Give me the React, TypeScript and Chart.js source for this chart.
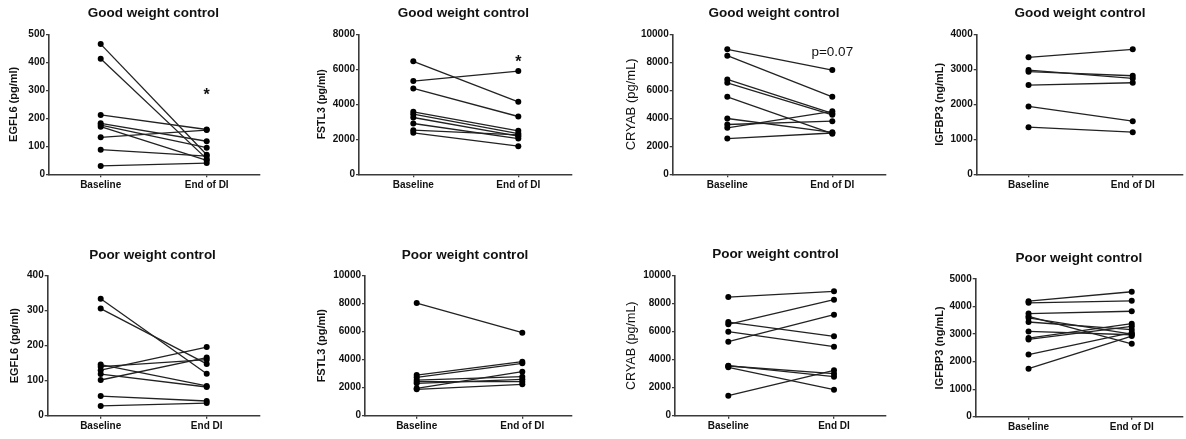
import React, { useEffect, useRef } from "react";
import { Chart, registerables } from "chart.js";

Chart.register(...registerables);

const FONT = '"Liberation Sans", Arial, Helvetica, sans-serif';

// ---------- DATA ----------
const xLabelsEndOfDI = ["Baseline", "End of DI"];
const xLabelsEndDI = ["Baseline", "End DI"];

const egfl6GoodBaseline = [465, 413, 212, 182, 176, 170, 132, 88, 30];
const egfl6GoodEnd = [70, 55, 160, 118, 95, 50, 158, 65, 40];

const fstl3GoodBaseline = [6453, 5327, 4907, 3570, 3437, 3246, 2902, 2520, 2368];
const fstl3GoodEnd = [4143, 5900, 3303, 2482, 2330, 2177, 2043, 2250, 1604];

const cryabGoodBaseline = [8926, 8473, 6778, 6539, 5537, 3986, 3556, 3317, 2554];
const cryabGoodEnd = [7446, 5537, 4350, 4250, 2900, 3000, 3795, 4500, 2950];

const igfbp3GoodBaseline = [3341, 2979, 2931, 2549, 1938, 1346];
const igfbp3GoodEnd = [3570, 2740, 2816, 2616, 1518, 1203];

const egfl6PoorBaseline = [334, 306, 146, 140, 130, 119, 102, 56, 28];
const egfl6PoorEnd = [120, 148, 85, 160, 196, 82, 166, 42, 36];

const fstl3PoorBaseline = [8048, 2905, 2738, 2548, 2429, 2310, 1952, 1881];
const fstl3PoorEnd = [5929, 3857, 3738, 2786, 2429, 2595, 3143, 2238];

const cryabPoorBaseline = [8476, 6524, 5286, 6690, 6000, 3571, 3550, 3452, 1429];
const cryabPoorEnd = [8881, 8286, 7214, 5667, 4929, 2786, 3000, 1857, 3238];

const igfbp3PoorBaseline = [4195, 4134, 3744, 3646, 3585, 3439, 3098, 2854, 2805, 2256, 1744];
const igfbp3PoorEnd = [4537, 4207, 3829, 2646, 3000, 3159, 2976, 3378, 3280, 3050, 2927];

const titleGood = "Good weight control";
const titlePoor = "Poor weight control";

// ---------- LAYOUT ----------
type Layout = {
  left: number; top: number; width: number; height: number;
  axisX: number; baseX: number; endX: number; right: number;
  plotTop: number; plotBottom: number;
  titleX: number; titleY: number; yTitleX: number;
};

type Note = { text: string; value: number; kind: "star" | "text" };

type Spec = {
  layout: Layout;
  title: string;
  yTitle: string;
  yTitleSize: number;
  yTitleWeight: string;
  xLabels: string[];
  yMax: number;
  yStep: number;
  baseline: number[];
  end: number[];
  note?: Note;
};

const specs: Spec[] = [
  {
    layout: { left: 0, top: 0, width: 290, height: 200, axisX: 49, baseX: 100.7, endX: 206.7, right: 260, plotTop: 34.3, plotBottom: 174.3, titleX: 153.3, titleY: 13.3, yTitleX: 14 },
    title: titleGood, yTitle: "EGFL6 (pg/ml)", yTitleSize: 11, yTitleWeight: "bold",
    xLabels: xLabelsEndOfDI, yMax: 500, yStep: 100,
    baseline: egfl6GoodBaseline, end: egfl6GoodEnd,
    note: { text: "*", value: 297, kind: "star" },
  },
  {
    layout: { left: 290, top: 0, width: 300, height: 200, axisX: 359, baseX: 413.3, endX: 518.3, right: 572, plotTop: 34.3, plotBottom: 174.3, titleX: 463.3, titleY: 13.3, yTitleX: 321.7 },
    title: titleGood, yTitle: "FSTL3 (pg/ml)", yTitleSize: 10.5, yTitleWeight: "bold",
    xLabels: xLabelsEndOfDI, yMax: 8000, yStep: 2000,
    baseline: fstl3GoodBaseline, end: fstl3GoodEnd,
    note: { text: "*", value: 6664, kind: "star" },
  },
  {
    layout: { left: 590, top: 0, width: 300, height: 200, axisX: 672.7, baseX: 727.3, endX: 832.3, right: 886, plotTop: 34.3, plotBottom: 174.3, titleX: 774, titleY: 13.3, yTitleX: 631.7 },
    title: titleGood, yTitle: "CRYAB (pg/mL)", yTitleSize: 13, yTitleWeight: "normal",
    xLabels: xLabelsEndOfDI, yMax: 10000, yStep: 2000,
    baseline: cryabGoodBaseline, end: cryabGoodEnd,
    note: { text: "p=0.07", value: 8736, kind: "text" },
  },
  {
    layout: { left: 880, top: 0, width: 306, height: 200, axisX: 976.7, baseX: 1029.3, endX: 1135, right: 1186, plotTop: 34.3, plotBottom: 174.3, titleX: 1080, titleY: 13.3, yTitleX: 940 },
    title: titleGood, yTitle: "IGFBP3 (ng/mL)", yTitleSize: 11, yTitleWeight: "bold",
    xLabels: xLabelsEndOfDI, yMax: 4000, yStep: 1000,
    baseline: igfbp3GoodBaseline, end: igfbp3GoodEnd,
  },
  {
    layout: { left: 0, top: 220, width: 290, height: 219, axisX: 47.7, baseX: 100.7, endX: 206.7, right: 260, plotTop: 275.7, plotBottom: 415.7, titleX: 152.5, titleY: 255, yTitleX: 15 },
    title: titlePoor, yTitle: "EGFL6 (pg/ml)", yTitleSize: 11, yTitleWeight: "bold",
    xLabels: xLabelsEndDI, yMax: 400, yStep: 100,
    baseline: egfl6PoorBaseline, end: egfl6PoorEnd,
  },
  {
    layout: { left: 290, top: 220, width: 300, height: 219, axisX: 365, baseX: 416.7, endX: 522.3, right: 572, plotTop: 275.7, plotBottom: 415.7, titleX: 465, titleY: 255, yTitleX: 321.7 },
    title: titlePoor, yTitle: "FSTL3 (pg/ml)", yTitleSize: 11, yTitleWeight: "bold",
    xLabels: xLabelsEndOfDI, yMax: 10000, yStep: 2000,
    baseline: fstl3PoorBaseline, end: fstl3PoorEnd,
  },
  {
    layout: { left: 590, top: 220, width: 300, height: 219, axisX: 675, baseX: 728.3, endX: 834, right: 886, plotTop: 275.7, plotBottom: 415.7, titleX: 775.5, titleY: 254.3, yTitleX: 631.7 },
    title: titlePoor, yTitle: "CRYAB (pg/mL)", yTitleSize: 12.5, yTitleWeight: "normal",
    xLabels: xLabelsEndDI, yMax: 10000, yStep: 2000,
    baseline: cryabPoorBaseline, end: cryabPoorEnd,
  },
  {
    layout: { left: 880, top: 220, width: 306, height: 219, axisX: 975.7, baseX: 1029.3, endX: 1134, right: 1186, plotTop: 279, plotBottom: 416.7, titleX: 1078.8, titleY: 258.3, yTitleX: 940 },
    title: titlePoor, yTitle: "IGFBP3 (ng/mL)", yTitleSize: 11, yTitleWeight: "bold",
    xLabels: xLabelsEndOfDI, yMax: 5000, yStep: 1000,
    baseline: igfbp3PoorBaseline, end: igfbp3PoorEnd,
  },
];

const AXIS_COLOR = "#3a3a3a";
const TEXT_COLOR = "#111";

function Panel({ spec }: { spec: Spec }) {
  const ref = useRef<HTMLCanvasElement>(null);
  const L = spec.layout;

  useEffect(() => {
    if (!ref.current) return;
    const unit = L.endX - L.baseX;
    const xMin = -(L.baseX - L.axisX) / unit;
    const xMax = 1 + (L.right - L.endX) / unit;

    const datasets = spec.baseline.map((b, i) => ({
      data: [
        { x: 0, y: b },
        { x: 1, y: spec.end[i] },
      ],
      borderColor: "#222",
      borderWidth: 1.3,
      pointRadius: 3,
      pointBackgroundColor: "#000",
      pointBorderColor: "#000",
      pointBorderWidth: 0,
      pointHoverRadius: 3,
      fill: false,
      tension: 0,
      clip: false as any,
    }));

    const textPlugin = {
      id: "panelText",
      afterDraw(chart: any) {
        const ctx = chart.ctx;
        ctx.save();
        ctx.fillStyle = TEXT_COLOR;
        ctx.textAlign = "center";
        ctx.textBaseline = "middle";
        ctx.font = `bold 13.5px ${FONT}`;
        ctx.fillText(spec.title, L.titleX - L.left, L.titleY - L.top);
        if (spec.note) {
          const xs = chart.scales.x;
          const ys = chart.scales.y;
          const px = xs.getPixelForValue(1);
          const py = ys.getPixelForValue(spec.note.value);
          if (spec.note.kind === "star") {
            const size = 16;
            ctx.font = `bold ${size}px ${FONT}`;
            ctx.textBaseline = "alphabetic";
            ctx.fillText(spec.note.text, px, py + size * 0.56);
          } else {
            ctx.font = `13.5px ${FONT}`;
            ctx.fillText(spec.note.text, px, py);
          }
        }
        ctx.restore();
      },
    };

    const yLineHeight = spec.yTitleSize * 1.2;

    const chart = new Chart(ref.current, {
      type: "line",
      data: { datasets },
      options: {
        animation: false,
        responsive: false,
        maintainAspectRatio: false,
        devicePixelRatio: 1,
        events: [],
        layout: {
          padding: {
            left: 0,
            right: L.left + L.width - L.right,
            top: L.plotTop - L.top,
            bottom: 0,
          },
        },
        plugins: {
          legend: { display: false },
          tooltip: { enabled: false },
          title: { display: false },
        },
        scales: {
          x: {
            type: "linear",
            min: xMin,
            max: xMax,
            afterBuildTicks: (s: any) => {
              s.ticks = [{ value: 0 }, { value: 1 }];
            },
            afterFit: (s: any) => {
              s.height = L.top + L.height - L.plotBottom;
            },
            ticks: {
              callback: (v: any) => spec.xLabels[Math.round(Number(v))] ?? "",
              font: { family: FONT, size: 10, weight: "bold" },
              color: TEXT_COLOR,
              padding: 2,
              maxRotation: 0,
              autoSkip: false,
            },
            grid: {
              drawOnChartArea: false,
              drawTicks: true,
              tickLength: 3,
              color: AXIS_COLOR,
              lineWidth: 1.3,
            },
            border: { color: AXIS_COLOR, width: 1.6 },
          },
          y: {
            type: "linear",
            min: 0,
            max: spec.yMax,
            afterFit: (s: any) => {
              s.width = L.axisX - L.left;
            },
            ticks: {
              stepSize: spec.yStep,
              callback: (v: any) => String(v),
              font: { family: FONT, size: 10, weight: "bold" },
              color: TEXT_COLOR,
              padding: 1,
            },
            grid: {
              drawOnChartArea: false,
              drawTicks: true,
              tickLength: 3,
              color: AXIS_COLOR,
              lineWidth: 1.3,
            },
            border: { color: AXIS_COLOR, width: 1.6 },
            title: {
              display: true,
              text: spec.yTitle,
              color: TEXT_COLOR,
              font: { family: FONT, size: spec.yTitleSize, weight: spec.yTitleWeight as any, lineHeight: 1.2 },
              padding: { top: L.yTitleX - L.left - yLineHeight / 2, bottom: 0 },
            },
          },
        },
      },
      plugins: [textPlugin],
    } as any);

    return () => chart.destroy();
  }, []);

  return (
    <canvas
      ref={ref}
      width={L.width}
      height={L.height}
      style={{ position: "absolute", left: L.left, top: L.top, width: L.width, height: L.height }}
    />
  );
}

export default function App() {
  return (
    <div style={{ position: "absolute", left: 0, top: 0, width: 1186, height: 439, background: "#fff", overflow: "hidden" }}>
      {specs.map((s, i) => (
        <Panel key={i} spec={s} />
      ))}
    </div>
  );
}
